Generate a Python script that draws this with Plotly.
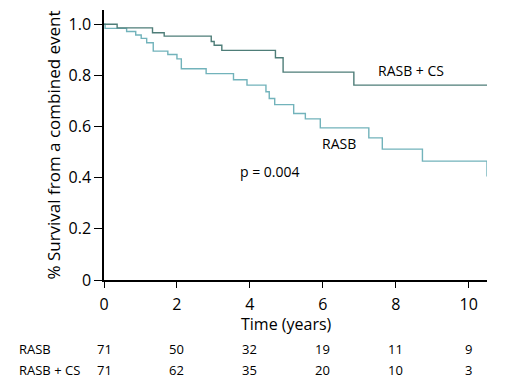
import plotly.graph_objects as go

# Kaplan-Meier step data (time in years, survival fraction)
cs_time = [0, 0.36, 1.33, 1.65, 2.94, 3.02, 3.23, 4.70, 4.91, 6.85, 10.5]
cs_surv = [1.0, 0.986, 0.967, 0.954, 0.933, 0.918, 0.898, 0.869, 0.813, 0.762, 0.762]

rasb_time = [0, 0.03, 0.62, 0.87, 1.02, 1.17, 1.35, 1.75, 2.0, 2.12, 2.8, 3.55, 3.92,
             4.44, 4.53, 4.68, 5.2, 5.52, 5.93, 7.26, 7.63, 8.73, 10.5, 10.5]
rasb_surv = [1.0, 0.984, 0.972, 0.958, 0.945, 0.928, 0.895, 0.882, 0.865, 0.826, 0.807, 0.783, 0.762,
             0.736, 0.710, 0.686, 0.651, 0.630, 0.595, 0.556, 0.512, 0.465, 0.465, 0.405]

x_ticks = [0, 2, 4, 6, 8, 10]
y_ticks = [0, 0.2, 0.4, 0.6, 0.8, 1.0]
y_tick_labels = ["0", "0.2", "0.4", "0.6", "0.8", "1.0"]

risk_groups = ["RASB", "RASB + CS"]
risk_rasb = [71, 50, 32, 19, 11, 9]
risk_cs = [71, 62, 35, 20, 10, 3]

FONT = "Open Sans"
DARK = "#4e7d78"
LIGHT = "#72b3bb"

fig = go.Figure()
fig.add_trace(go.Scatter(x=rasb_time, y=rasb_surv, mode="lines", line_shape="hv",
                         line=dict(color=LIGHT, width=1.4), showlegend=False))
fig.add_trace(go.Scatter(x=cs_time, y=cs_surv, mode="lines", line_shape="hv",
                         line=dict(color=DARK, width=1.4), showlegend=False))

ann = []
ann.append(dict(x=8.41, y=0.82, text="RASB + CS", showarrow=False, xref="x", yref="y",
                font=dict(size=14, color="black", family=FONT)))
ann.append(dict(x=6.43, y=0.533, text="RASB", showarrow=False, xref="x", yref="y",
                font=dict(size=14, color="black", family=FONT)))
ann.append(dict(x=4.56, y=0.424, text="p = 0.004", showarrow=False, xref="x", yref="y",
                font=dict(size=14, color="black", family=FONT)))
# x title (screen pixel y)
ann.append(dict(x=5.0, y=324, text="Time (years)", showarrow=False, xref="x", yref="paper",
                font=dict(size=16, color="black", family=FONT)))

# risk table (screen pixel positions)
row_y = [349, 370]
for lbl, vals, py in zip(risk_groups, [risk_rasb, risk_cs], row_y):
    ann.append(dict(x=17, y=py, text=lbl, showarrow=False, xref="paper", yref="paper",
                    xanchor="left", font=dict(size=13, color="black", family=FONT)))
    for xv, v in zip(x_ticks, vals):
        ann.append(dict(x=xv, y=py, text=str(v), showarrow=False, xref="x", yref="paper",
                        font=dict(size=13, color="black", family=FONT)))

# page body offset of 8px; screen plot area: left 104, right 487, top 10, bottom 280
OFF = 8
W, H = 515, 392
scr_l, scr_r, scr_t, scr_b = 104, 487, 10, 280
ml = scr_l - OFF
mt = scr_t - OFF
mr = (W + OFF) - scr_r
mb = (H + OFF) - scr_b
ph = scr_b - scr_t
pw = scr_r - scr_l
for a in ann:
    if a["yref"] == "paper":
        a["y"] = (scr_b - a["y"]) / ph
        a["yanchor"] = "middle"
    if a["xref"] == "paper":
        a["x"] = (a["x"] - scr_l) / pw

fig.update_layout(
    width=W, height=H,
    margin=dict(l=ml, r=mr, t=mt, b=mb),
    paper_bgcolor="white", plot_bgcolor="white",
    font=dict(family=FONT, color="black"),
    annotations=ann,
    xaxis=dict(range=[0, 10.5], tickvals=x_ticks, showgrid=False, zeroline=False,
               showline=True, linecolor="black", linewidth=1.5,
               ticks="outside", ticklen=6, tickcolor="black", tickwidth=1.2,
               ticklabelstandoff=3,
               tickfont=dict(size=16, family=FONT, color="black")),
    yaxis=dict(range=[0, 1.056], tickvals=y_ticks, ticktext=y_tick_labels,
               showgrid=False, zeroline=False,
               showline=True, linecolor="black", linewidth=1.5,
               ticks="outside", ticklen=8, tickcolor="black", tickwidth=1.2,
               tickfont=dict(size=16, family=FONT, color="black"),
               title=dict(text="% Survival from a combined event",
                          font=dict(size=17, family=FONT, color="black"), standoff=4)),
)

fig.write_html("out.html")
